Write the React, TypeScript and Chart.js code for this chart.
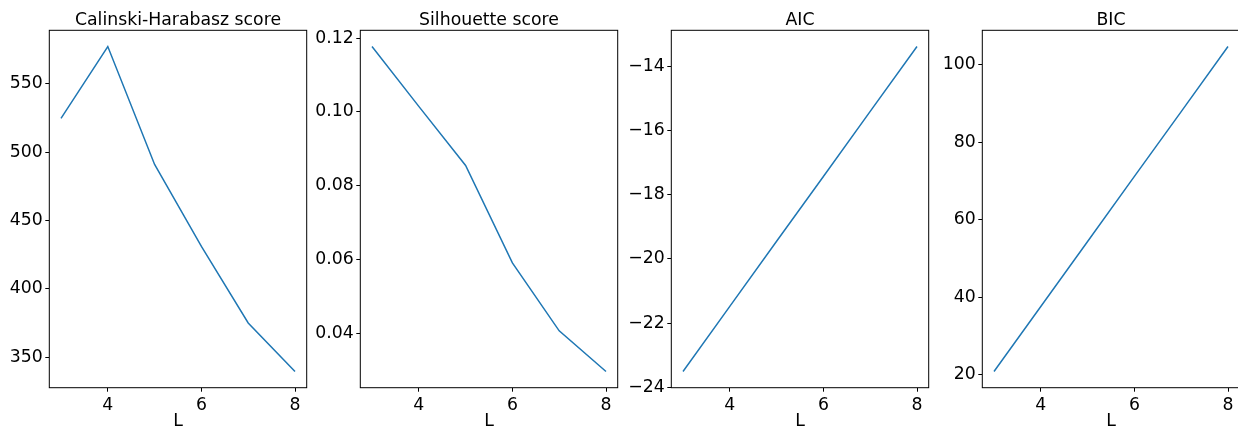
import React, { useEffect, useRef } from "react";
import { Chart, registerables } from "chart.js";

Chart.register(...registerables);

// ---- data ----
const L = [3, 4, 5, 6, 7, 8];
const chScores = [524.7, 577.3, 491.0, 431.0, 375.0, 339.5];
const silScores = [0.1177, 0.1015, 0.0855, 0.0591, 0.0407, 0.0297];
const aicScores = [-23.51, -21.48, -19.45, -17.43, -15.4, -13.38];
const bicScores = [20.85, 37.6, 54.4, 71.2, 87.9, 104.7];

const xTicks = [4, 6, 8];
const chTicks = [350, 400, 450, 500, 550];
const silTicks = [0.04, 0.06, 0.08, 0.1, 0.12];
const aicTicks = [-24, -22, -20, -18, -16, -14];
const bicTicks = [20, 40, 60, 80, 100];

const titles = ["Calinski-Harabasz score", "Silhouette score", "AIC", "BIC"];
const xLabel = "L";

// ---- style ----
const FONT = { family: "'DejaVu Sans', sans-serif", size: 17.3 };
const FONT_TIGHT = { ...FONT, lineHeight: 1.0 };
const LINE_COLOR = "#1f77b4";
const PANEL_STEP = 311;
const CANVAS_W = 311;
const CANVAS_H = 430;
const Y_AXIS_W = 49.3;
const X_AXIS_H = 42.3;
const PLOT_W = 257.4;

const boxPlugin = {
  id: "axesBox",
  afterDraw(chart: any) {
    const { ctx, chartArea } = chart;
    const { left, top, right, bottom } = chartArea;
    ctx.save();
    ctx.strokeStyle = "#000";
    ctx.lineWidth = 1;
    ctx.strokeRect(left, top, right - left, bottom - top);
    ctx.restore();
  },
};

const fmtPlain = (v: number) => String(v);
const fmt2 = (v: number) => v.toFixed(2);
const fmtMinus = (v: number) => (v < 0 ? "\u2212" + Math.abs(v) : String(v));

function margins(vals: number[]) {
  const mn = Math.min(...vals);
  const mx = Math.max(...vals);
  const pad = (mx - mn) * 0.05;
  return { min: mn - pad, max: mx + pad };
}

type PanelProps = {
  title: string;
  values: number[];
  yTicks: number[];
  fmt: (v: number) => string;
  index: number;
};

function Panel({ title, values, yTicks, fmt, index }: PanelProps) {
  const ref = useRef<HTMLCanvasElement | null>(null);
  useEffect(() => {
    if (!ref.current) return;
    const xr = margins(L);
    const yr = margins(values);
    const chart = new Chart(ref.current, {
      type: "line",
      data: {
        datasets: [
          {
            data: L.map((x, i) => ({ x, y: values[i] })),
            borderColor: LINE_COLOR,
            borderWidth: 1.5,
            pointRadius: 0,
            fill: false,
            tension: 0,
          },
        ],
      },
      options: {
        responsive: false,
        animation: false,
        layout: { padding: { top: 0, right: CANVAS_W - Y_AXIS_W - PLOT_W, bottom: 0, left: 0 } },
        plugins: {
          legend: { display: false },
          tooltip: { enabled: false },
          title: {
            display: true,
            text: title,
            fullSize: false,
            color: "#000",
            font: { ...FONT_TIGHT, weight: "normal" },
            padding: { top: 11.85, bottom: 1.15 },
          },
        },
        scales: {
          x: {
            type: "linear",
            min: xr.min,
            max: xr.max,
            afterBuildTicks: (s: any) => {
              s.ticks = xTicks.map((v) => ({ value: v }));
            },
            afterFit: (s: any) => {
              s.height = X_AXIS_H;
            },
            ticks: { color: "#000", font: FONT, padding: 3, maxRotation: 0, callback: (v: any) => fmtPlain(Number(v)) },
            grid: { drawOnChartArea: false, drawTicks: true, tickLength: 4, color: "#000" },
            border: { display: false },
            title: { display: true, text: xLabel, color: "#000", font: FONT_TIGHT, padding: { top: 0, bottom: 0 } },
          },
          y: {
            type: "linear",
            min: yr.min,
            max: yr.max,
            afterBuildTicks: (s: any) => {
              s.ticks = yTicks.map((v) => ({ value: v }));
            },
            afterFit: (s: any) => {
              s.width = Y_AXIS_W;
            },
            ticks: { color: "#000", font: FONT, padding: 2.5, callback: (v: any) => fmt(Number(v)) },
            grid: { drawOnChartArea: false, drawTicks: true, tickLength: 4, color: "#000" },
            border: { display: false },
          },
        },
      },
      plugins: [boxPlugin],
    } as any);
    return () => chart.destroy();
  }, []);
  return (
    <canvas
      ref={ref}
      width={CANVAS_W}
      height={CANVAS_H}
      style={{ position: "absolute", left: index * PANEL_STEP, top: 0, width: CANVAS_W, height: CANVAS_H }}
    />
  );
}

export default function App() {
  const series = [chScores, silScores, aicScores, bicScores];
  const ticks = [chTicks, silTicks, aicTicks, bicTicks];
  const fmts = [fmtPlain, fmt2, fmtMinus, fmtPlain];
  return (
    <div
      style={{
        position: "fixed",
        left: 0,
        top: 0,
        width: 1238,
        height: 430,
        overflow: "hidden",
        background: "#fff",
      }}
    >
      {titles.map((t, i) => (
        <Panel key={t} title={t} values={series[i]} yTicks={ticks[i]} fmt={fmts[i]} index={i} />
      ))}
    </div>
  );
}
